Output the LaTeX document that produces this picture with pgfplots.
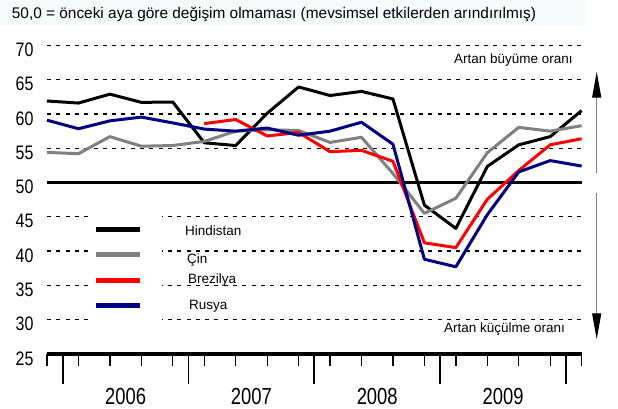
\documentclass[border=0pt]{standalone}
\usepackage{fontspec}
\setmainfont{Liberation Sans}
\usepackage{graphicx}
\usepackage{pgfplots}
\pgfplotsset{compat=1.18}
\usetikzlibrary{arrows.meta}
\definecolor{cgray}{RGB}{128,128,128}
\definecolor{cnavy}{RGB}{0,0,128}
\definecolor{titlebg}{RGB}{247,249,251}

\pgfplotstableread{
i H C R
0 61.9 54.4 59.1
1 61.6 54.2 57.85
2 62.9 56.7 59.0
3 61.7 55.3 59.55
4 61.75 55.4 58.7
5 55.8 56.0 57.8
6 55.4 57.5 57.5
7 60.1 57.7 57.95
8 63.95 57.6 56.9
9 62.7 55.85 57.5
10 63.3 56.6 58.8
11 62.2 51.3 55.6
12 46.7 45.5 38.8
13 43.3 47.7 37.7
14 52.35 54.35 45.3
15 55.5 58.05 51.55
16 56.7 57.5 53.2
17 60.5 58.3 52.4
}\datamain

\pgfplotstableread{
i B
5 58.6
6 59.2
7 56.8
8 57.3
9 54.5
10 54.7
11 53.1
12 41.2
13 40.5
14 47.55
15 51.75
16 55.5
17 56.4
}\databr

\tikzset{yearlab/.style={font=\fontsize{23.3bp}{24bp}\selectfont, xscale=0.79, inner sep=0pt, yshift=-42.85bp}}

\begin{document}
\begin{tikzpicture}
\path[use as bounding box] (0bp,0bp) rectangle (618bp,409bp);
\fill[titlebg] (0bp,383bp) rectangle (585bp,409bp);
\node[anchor=base west, inner sep=0pt, font=\fontsize{15.4bp}{16bp}\selectfont] at (11.7bp,390.7bp) {50,0 = önceki aya göre değişim olmaması (mevsimsel etkilerden arındırılmış)};

\begin{axis}[
  at={(47bp,55.2bp)}, anchor=south west,
  scale only axis, width=534.65bp, height=308.3bp,
  xmin=0, xmax=17, ymin=25, ymax=70,
  clip=false,
  axis x line*=bottom, axis y line*=left,
  x axis line style={-, line width=4.3bp, black},
  y axis line style={draw=none},
  tick align=outside,
  xtick={0,...,17}, xticklabels={},
  major tick length=12.2bp,
  xtick style={black, line width=1.3bp},
  extra x ticks={0.5,4.5,8.5,12.5,16.5}, extra x tick labels={},
  extra x tick style={major tick length=30.2bp, xtick style={black, line width=1.8bp}},
  ytick={25,30,...,70},
  ytick style={draw=none},
  /pgf/number format/assume math mode=true,
  yticklabel style={font=\fontsize{19.5bp}{20bp}\selectfont, xscale=0.82, anchor=east, inner sep=0pt, yshift=-4.5bp, xshift=-1.5bp},
  ymajorgrids,
  grid style={black, line width=1.3bp, dash pattern=on 4bp off 5.3bp},
  legend style={at={(axis cs:1.463,44.1)}, anchor=north west, draw=none, fill=none,
    font=\fontsize{13.5bp}{14bp}\selectfont, row sep=12.3bp, column sep=43bp, inner sep=0pt,
    nodes={inner sep=0pt, text height=10bp, text depth=3bp}},
  legend cell align=left,
  legend image code/.code={\draw[#1, line width=5bp] (0bp,0bp) -- (44bp,0bp);},
  every axis plot/.append style={line width=3bp, line join=round, no markers},
]
\fill[white] (axis cs:1.37,29.2) rectangle (axis cs:3.66,46.2);
\draw[black, line width=2.5bp] (axis cs:0,50) -- (axis cs:17,50);
\addplot[black] table[x=i, y=H] {\datamain};
\addlegendentry{\raisebox{-2bp}{Hindistan}}
\addplot[cgray] table[x=i, y=C] {\datamain};
\addlegendentry{\hspace{2bp}\raisebox{-5.5bp}{Çin}}
\addplot[red] table[x=i, y=B] {\databr};
\addlegendentry{\hspace{3bp}Brezilya}
\addplot[cnavy] table[x=i, y=R] {\datamain};
\addlegendentry{\hspace{4bp}Rusya}
\node[yearlab] at (axis cs:2.5,25) {2006};
\node[yearlab] at (axis cs:6.5,25) {2007};
\node[yearlab] at (axis cs:10.5,25) {2008};
\node[yearlab] at (axis cs:14.5,25) {2009};
\end{axis}

\node[anchor=base west, inner sep=0pt, font=\fontsize{13.5bp}{14bp}\selectfont] at (454bp,345.7bp) {Artan büyüme oranı};
\node[anchor=base west, inner sep=0pt, font=\fontsize{13.5bp}{14bp}\selectfont] at (444bp,76.6bp) {Artan küçülme oranı};
\draw[cgray, line width=1.2bp, -{Triangle[length=26bp, width=9bp, color=black]}] (596.7bp,235.7bp) -- (596.7bp,337.3bp);
\draw[cgray, line width=1.2bp, -{Triangle[length=26bp, width=9bp, color=black]}] (596.7bp,215.7bp) -- (596.7bp,69.7bp);
\end{tikzpicture}
\end{document}
